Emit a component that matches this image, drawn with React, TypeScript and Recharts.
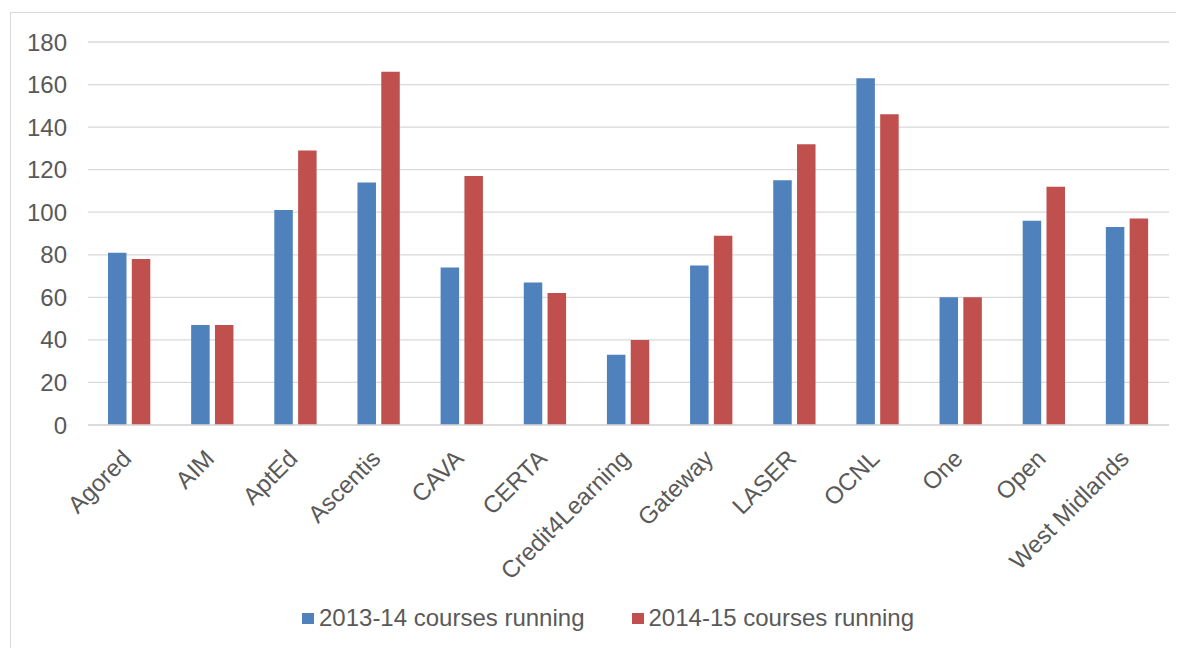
import React from 'react';
import { BarChart, Bar, XAxis, YAxis, CartesianGrid, Legend } from 'recharts';

const categories = ['Agored', 'AIM', 'AptEd', 'Ascentis', 'CAVA', 'CERTA', 'Credit4Learning', 'Gateway', 'LASER', 'OCNL', 'One', 'Open', 'West Midlands'];
const courses2013 = [81, 47, 101, 114, 74, 67, 33, 75, 115, 163, 60, 96, 93];
const courses2014 = [78, 47, 129, 166, 117, 62, 40, 89, 132, 146, 60, 112, 97];
const yTicks = [0, 20, 40, 60, 80, 100, 120, 140, 160, 180];
const seriesNames = ['2013-14 courses running', '2014-15 courses running'];
const seriesColors = ['#4F81BD', '#C0504D'];

const data = categories.map((name, i) => ({ name, a: courses2013[i], b: courses2014[i] }));

const FONT = '"Liberation Sans", Arial, sans-serif';
const TEXT = '#595959';
const FS = 24;

const XTick = (props: any) => {
  const { x, y, payload } = props;
  return (
    <g transform={`translate(${x + 3},${y + 35})`}>
      <text x={0} y={0} transform="rotate(-45)" textAnchor="end" fill={TEXT} fontSize={FS} fontFamily={FONT}>
        {payload.value}
      </text>
    </g>
  );
};

const LegendContent = () => (
  <div style={{ display: 'flex', justifyContent: 'center', alignItems: 'center', fontFamily: FONT, fontSize: FS, color: TEXT, lineHeight: '26px' }}>
    {seriesNames.map((n, i) => (
      <div key={n} style={{ display: 'flex', alignItems: 'center', marginLeft: i === 0 ? 0 : 47 }}>
        <span style={{ display: 'inline-block', width: 12, height: 11, background: seriesColors[i], marginRight: 5 }} />
        <span>{n}</span>
      </div>
    ))}
  </div>
);

export default function App() {
  return (
    <div style={{ position: 'relative', width: 1176, height: 640, overflow: 'hidden', background: '#fff' }}>
      <div style={{ position: 'absolute', left: 2, top: 4, width: 1200, height: 700, border: '1.5px solid #D9D9D9', boxSizing: 'border-box' }} />
      <div style={{ position: 'absolute', left: 0, top: 0 }}>
        <BarChart width={1176} height={640} data={data} margin={{ top: 34, right: 15, left: 0, bottom: 0 }} barSize={18.5} barGap={5.3}>
          <CartesianGrid vertical={false} stroke="#D9D9D9" strokeWidth={1.3} />
          <XAxis dataKey="name" height={223} interval={0} tickLine={false} tickSize={0} tickMargin={0} axisLine={{ stroke: '#D9D9D9', strokeWidth: 1.3 }} tick={<XTick />} />
          <YAxis width={80} domain={[0, 180]} ticks={yTicks} axisLine={false} tickLine={false} tickSize={0} tickMargin={21} tick={{ fill: TEXT, fontSize: FS, fontFamily: FONT }} />
          <Bar dataKey="a" name={seriesNames[0]} fill={seriesColors[0]} isAnimationActive={false} />
          <Bar dataKey="b" name={seriesNames[1]} fill={seriesColors[1]} isAnimationActive={false} />
          <Legend content={<LegendContent />} wrapperStyle={{ position: 'absolute', left: 0, top: 597, width: 1200, height: 0 }} />
        </BarChart>
      </div>
    </div>
  );
}
